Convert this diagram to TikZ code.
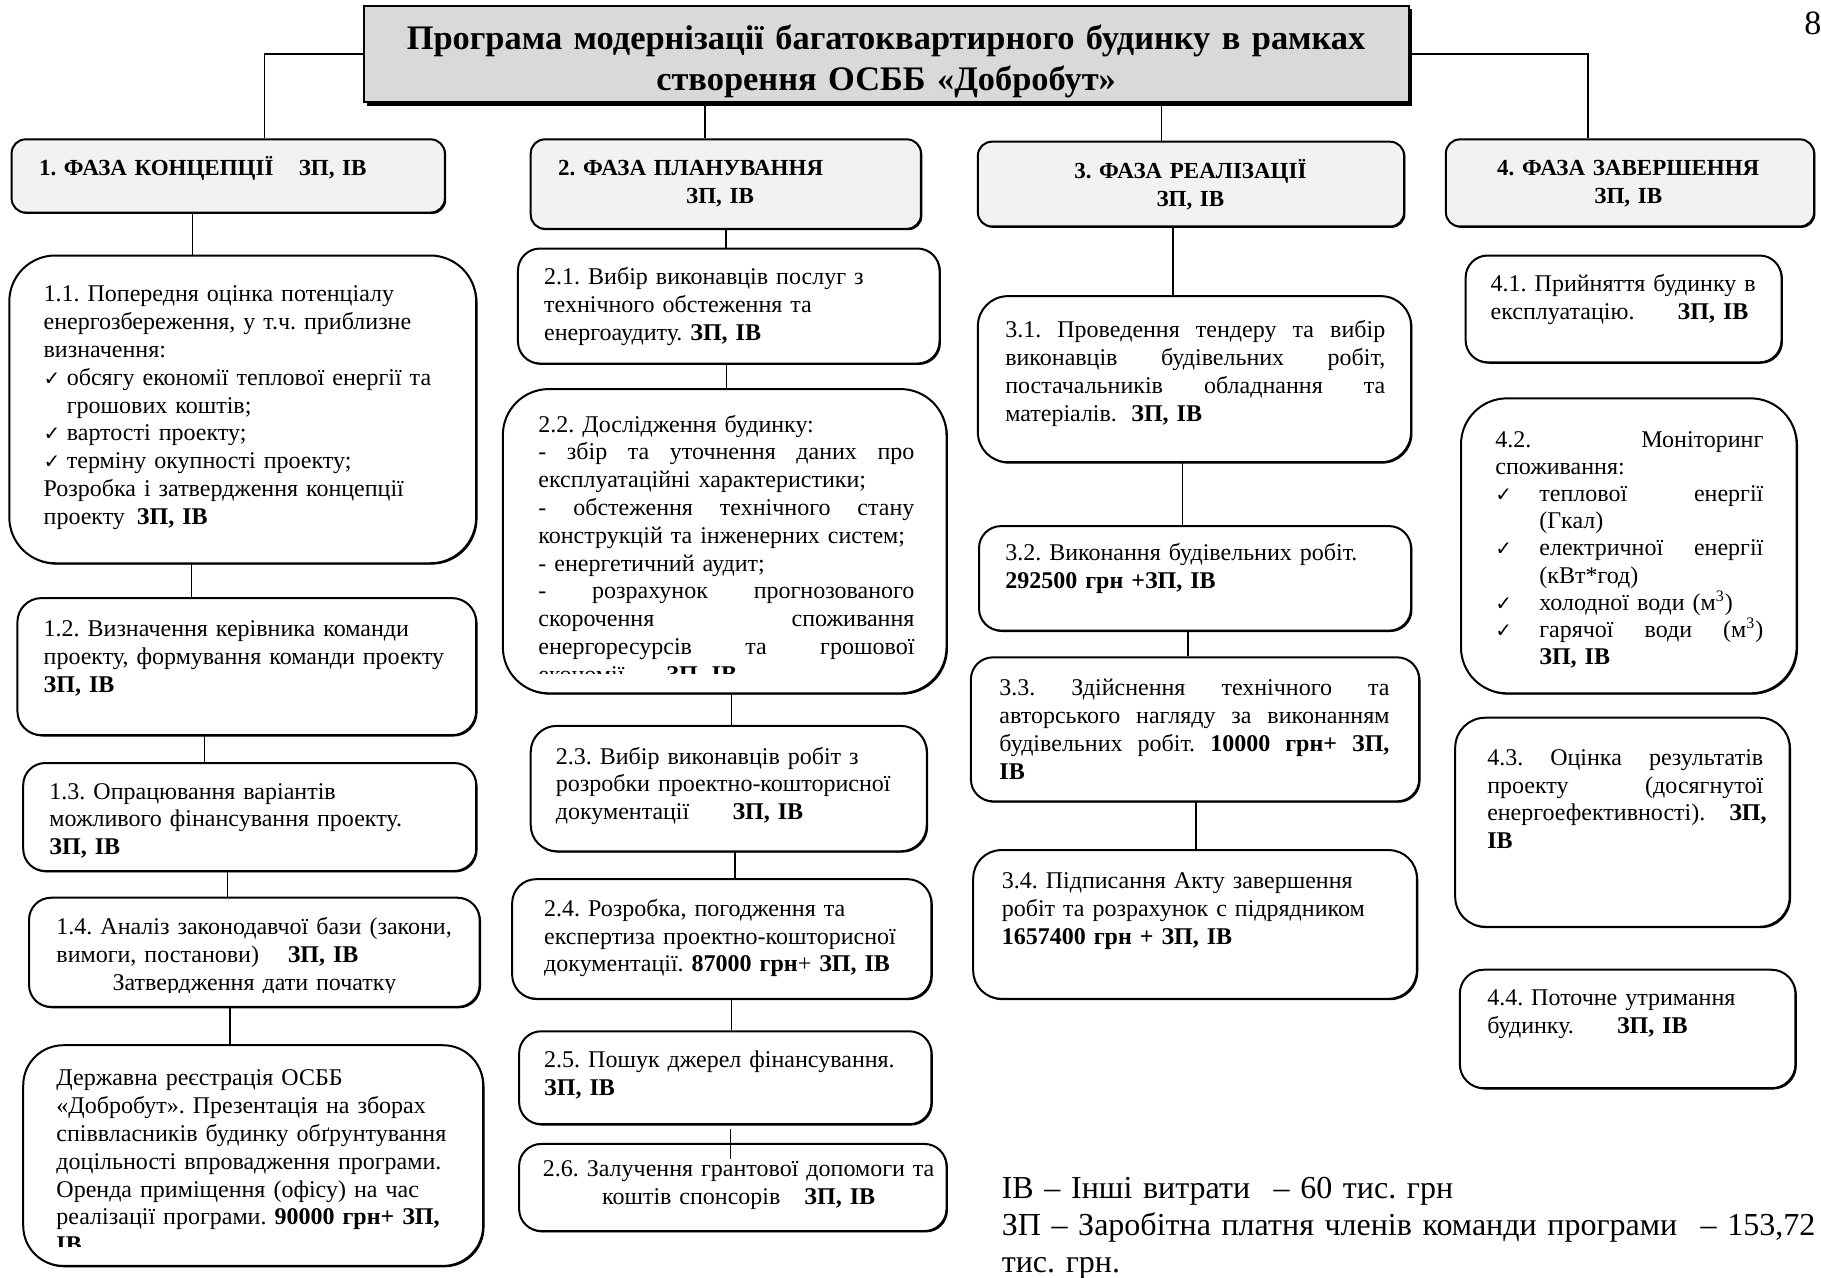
\documentclass[tikz,border=0pt]{standalone}
\usepackage{fontspec}
\setmainfont{Liberation Serif}
\newfontfamily\symfont{DejaVu Sans}
\usetikzlibrary{fit,shadows}

\definecolor{titlegray}{HTML}{D9D9D9}
\definecolor{phasegray}{HTML}{F2F2F2}

\newcommand{\chk}{{\symfont\fontsize{10}{13.9}\selectfont ✓}}
\newcommand{\chkit}{\makebox[11.6pt][l]{\chk}}
\newcommand{\jl}[2][\hsize]{{\spaceskip=0pt\xspaceskip=0pt\makebox[#1][s]{#2}}}
\newcommand{\ck}[1]{\makebox[22pt][l]{\chk}\jl[\dimexpr\hsize-22pt\relax]{#1}}
\newcommand{\zi}{\textbf{ЗП, ІВ}}

\begin{document}
\frenchspacing
\begin{tikzpicture}[x=0.5807pt,y=-0.5807pt,line width=0.7pt,
  box/.style={draw,line width=1pt,inner sep=0pt,fill=white,rounded corners=#1,
    drop shadow={shadow xshift=0.7pt,shadow yshift=-0.7pt,opacity=1,fill=black}},
  box/.default=11pt,
  headbox/.style={draw,line width=1pt,inner sep=0pt,fill=titlegray,
    drop shadow={shadow xshift=1.8pt,shadow yshift=-1.8pt,opacity=1,fill=black}},
  txt/.style={inner sep=0pt,anchor=base west,align=left,text width=240pt,font=\fontsize{12}{13.9}\selectfont},
  phasetxt/.style={inner sep=0pt,anchor=base,align=center,text width=200pt,font=\fontsize{11.5}{13.9}\selectfont\bfseries}]
\useasboundingbox (0,0) rectangle (1568,1100);

% title
\node[headbox,fit={(313,5) (1213,88)}] (title) {};
\node[inner sep=0pt,anchor=base,align=center,text width=520pt,font=\fontsize{17.2}{20.3}\selectfont\bfseries] (titletxt) at (763,43)
  {Програма модернізації багатоквартирного будинку в рамках\\створення ОСББ «Добробут»};
\node[inner sep=0pt,anchor=base west,font=\fontsize{17}{20}\selectfont] (pagenum) at (1553,30) {8};

% phases
\node[box=7pt,fill=phasegray,fit={(10,120) (383,183)}] (p1) {};
\node[box=7pt,fill=phasegray,fit={(457,120) (793,197)}] (p2) {};
\node[box=7pt,fill=phasegray,fit={(842,122) (1209,195)}] (p3) {};
\node[box=7pt,fill=phasegray,fit={(1245,120) (1562,195)}] (p4) {};
\node[phasetxt,anchor=base west,align=left] (p1txt) at (33,151) {1. ФАЗА КОНЦЕПЦІЇ\hspace{1.1em}ЗП, ІВ};
\node[phasetxt,anchor=base west,align=left] (p2txt) at (480,151) {2. ФАЗА ПЛАНУВАННЯ\\\hspace*{64pt}ЗП, ІВ};
\node[phasetxt] (p3txt) at (1025,154) {3. ФАЗА РЕАЛІЗАЦІЇ\\ЗП, ІВ};
\node[phasetxt] (p4txt) at (1402,151) {4. ФАЗА ЗАВЕРШЕННЯ\\ЗП, ІВ};

% phase 1
\node[box=23pt,fit={(8,220) (410,485)}] (s11) {};
\node[box=12pt,fit={(15,515) (410,633)}] (s12) {};
\node[box=11pt,fit={(20,657) (410,750)}] (s13) {};
\node[box=11pt,fit={(25,773) (413,867)}] (s14) {};
\node[box=20pt,fit={(20,900) (416,1090)}] (s15) {};

\node[txt] (t11) at (37,260) {1.1. Попередня оцінка потенціалу\\
  енергозбереження, у т.ч. приблизне\\
  визначення:\\
  \chkit обсягу економії теплової енергії та\\
  \hspace*{11.6pt}грошових коштів;\\
  \chkit вартості проекту;\\
  \chkit терміну окупності проекту;\\
  Розробка і затвердження концепції\\
  проекту\hspace{0.5em}\zi};
\node[txt] (t12) at (37,548) {1.2. Визначення керівника команди\\
  проекту, формування команди проекту\\\zi};
\node[txt] (t13) at (42,688) {1.3. Опрацювання варіантів\\
  можливого фінансування проекту.\\\zi};
\begin{scope}
  \clip (25,773) rectangle (413,855);
  \node[txt] (t14) at (48,805) {1.4. Аналіз законодавчої бази (закони,\\
    вимоги, постанови)\hspace{1.2em}\zi\\
    \makebox[198pt][c]{Затвердження дати початку}};
\end{scope}
\begin{scope}
  \clip (20,900) rectangle (416,1073);
  \node[txt] (t15) at (48,935) {Державна реєстрація ОСББ\\
    «Добробут». Презентація на зборах\\
    співвласників будинку обґрунтування\\
    доцільності впровадження програми.\\
    Оренда приміщення (офісу) на час\\
    реалізації програми. \textbf{90000 грн+ ЗП,}\\
    \textbf{ІВ}};
\end{scope}

% phase 2
\node[box=11pt,fit={(446,214) (809,313)}] (s21) {};
\node[box=23pt,fit={(433,335) (815,597)}] (s22) {};
\node[box=13pt,fit={(457,625) (798,733)}] (s23) {};
\node[box=12pt,fit={(441,757) (802,860)}] (s24) {};
\node[box=11pt,fit={(447,888) (802,968)}] (s25) {};
\node[box=11pt,fit={(447,985) (815,1060)}] (s26) {};

\node[txt] (t21) at (468,245) {2.1. Вибір виконавців послуг з\\
  технічного обстеження та\\
  енергоаудиту. \zi};
\begin{scope}
  \clip (433,335) rectangle (815,580);
  \node[txt,text width=188pt] (t22) at (463,372) {2.2. Дослідження будинку:\\
    \jl{- збір та уточнення даних про}\\
    експлуатаційні характеристики;\\
    \jl{- обстеження технічного стану}\\
    конструкцій та інженерних систем;\\
    - енергетичний аудит;\\
    \jl{- розрахунок прогнозованого}\\
    \jl{скорочення споживання}\\
    \jl{енергоресурсів та грошової}\\
    економії.\hspace{1.5em}\zi};
\end{scope}
\node[txt] (t23) at (478,658) {2.3. Вибір виконавців робіт з\\
  розробки проектно-кошторисної\\
  документації\hspace{1.8em}\zi};
\node[txt] (t24) at (468,789) {2.4. Розробка, погодження та\\
  експертиза проектно-кошторисної\\
  документації. \textbf{87000 грн}+ \zi};
\node[txt] (t25) at (468,919) {2.5. Пошук джерел фінансування.\\\zi};
\node[txt,anchor=base,align=center,text width=200pt] (t26) at (636,1013) {2.6. Залучення грантової допомоги та\\
  коштів спонсорів\hspace{1em}\zi};

% phase 3
\node[box=15pt,fit={(842,255) (1215,398)}] (s31) {};
\node[box=11pt,fit={(843,453) (1215,543)}] (s32) {};
\node[box=11pt,fit={(836,566) (1222,690)}] (s33) {};
\node[box=14pt,fit={(838,732) (1220,860)}] (s34) {};

\node[txt,text width=190pt] (t31) at (865,291) {\jl{3.1. Проведення тендеру та вибір}\\
  \jl{виконавців будівельних робіт,}\\
  \jl{постачальників обладнання та}\\
  матеріалів.\hspace{0.6em}\zi};
\node[txt] (t32) at (865,483) {3.2. Виконання будівельних робіт.\\
  \textbf{292500 грн +ЗП, ІВ}};
\node[txt,text width=195pt] (t33) at (860,599) {\jl{3.3. Здійснення технічного та}\\
  \jl{авторського нагляду за виконанням}\\
  \jl{будівельних робіт. \textbf{10000 грн+ ЗП,}}\\
  \textbf{ІВ}};
\node[txt] (t34) at (862,765) {3.4. Підписання Акту завершення\\
  робіт та розрахунок с підрядником\\
  \textbf{1657400 грн + ЗП, ІВ}};

% phase 4
\node[box=11pt,fit={(1262,220) (1534,312)}] (s41) {};
\node[box=23pt,fit={(1258,343) (1547,597)}] (s42) {};
\node[box=15pt,fit={(1253,618) (1541,798)}] (s43) {};
\node[box=12pt,fit={(1257,835) (1546,937)}] (s44) {};

\node[txt] (t41) at (1283,251) {4.1. Прийняття будинку в\\
  експлуатацію.\hspace{1.8em}\zi};
\node[txt,text width=134pt,font=\fontsize{12}{13.6}\selectfont] (t42) at (1287,385) {\jl{4.2. Моніторинг}\\
  споживання:\\
  \ck{теплової енергії}\\
  \hspace*{22pt}(Гкал)\\
  \ck{електричної енергії}\\
  \hspace*{22pt}(кВт*год)\\
  \makebox[22pt][l]{\chk}холодної води (м\textsuperscript{3})\\
  \ck{гарячої води (м\textsuperscript{3})}\\
  \hspace*{22pt}\zi};
\node[txt,text width=138pt] (t43) at (1280,659) {\jl{4.3. Оцінка результатів}\\
  \jl{проекту (досягнутої}\\
  \jl{енергоефективності).\hspace{1em}\textbf{ЗП,}}\\
  \textbf{ІВ}};
\node[txt] (t44) at (1280,866) {4.4. Поточне утримання\\
  будинку.\hspace{1.8em}\zi};

% legend
\node[txt,text width=420pt,font=\fontsize{16}{18.6}\selectfont] (legend) at (862,1032)
  {ІВ – Інші витрати\hspace{0.4em} – 60 тис. грн\\
   ЗП – Заробітна платня членів команди програми\hspace{0.4em} – 153,72\\
   тис. грн.};

% links
\draw (title.west) -| ([xshift=18pt]p1.north);
\draw (title.east) -| ([xshift=-21pt]p4.north);
\draw ([xshift=-10.5pt]p2.north) -- ([xshift=-10.5pt]p2.north |- title.south);
\draw ([xshift=-14.8pt]p3.north) -- ([xshift=-14.8pt]p3.north |- title.south);
\foreach \a/\b/\dx in {p1/s11/-18pt, s11/s12/-25.5pt, s12/s13/-21.2pt, s13/s14/-11pt, s14/s15/-12.2pt,
    p2/s21/0pt, s21/s22/-1pt, s22/s23/3.5pt, s23/s24/3.2pt, s24/s25/5pt,
    p3/s31/-9pt, s31/s32/-6pt, s32/s33/-3.5pt, s33/s34/0.5pt}
  \draw ([xshift=\dx]\a.south) -- ([xshift=\dx]\a.south |- \b.north);
\draw[shorten <=2pt,shorten >=-8pt] ([xshift=2.6pt]s25.south) -- ([xshift=2.6pt]s25.south |- s26.north);
\end{tikzpicture}
\end{document}
